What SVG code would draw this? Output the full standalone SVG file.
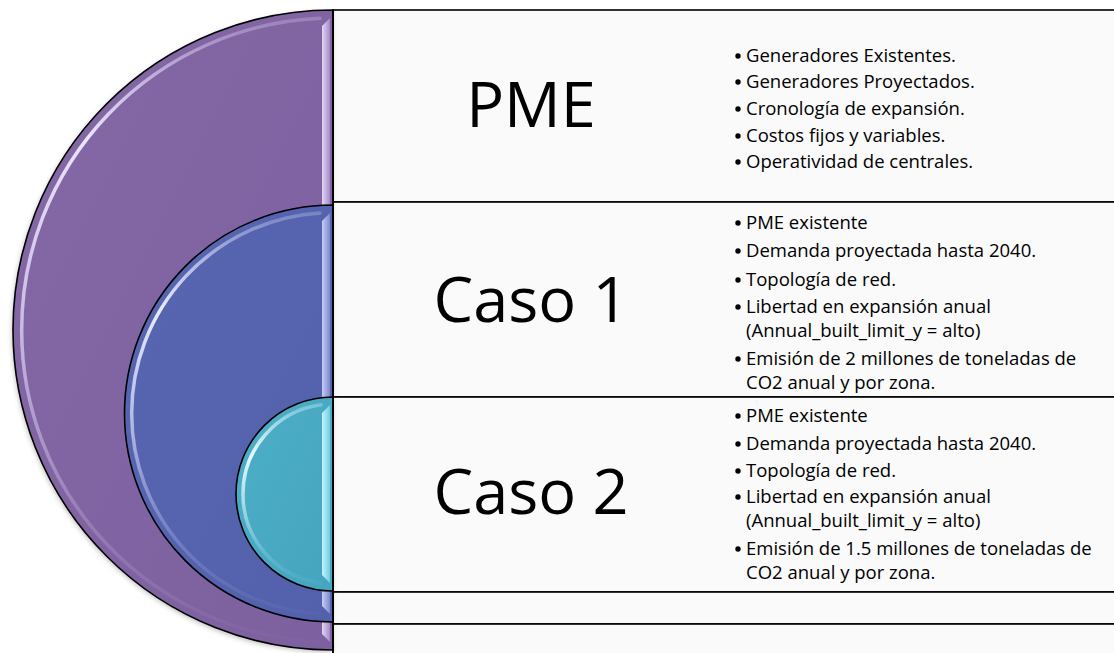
<svg xmlns="http://www.w3.org/2000/svg" width="1114" height="653" viewBox="0 0 1114 653">
<defs>
<style>
.box{fill:#fafafa;stroke:#000;stroke-width:1.6}
.edge{fill:none;stroke:#000;stroke-width:1.6}
.title{font-family:"Open Sans","Noto Sans",sans-serif;font-size:63px;fill:#000;text-anchor:middle}
.li{font-family:"Open Sans","Noto Sans",sans-serif;font-size:18.5px;fill:#000}
.dot{fill:#000}
.hl{fill:none;stroke-width:3.5;stroke-linecap:round}
</style>
<linearGradient id="gP" x1="0" y1="0" x2="1" y2="1"><stop offset="0" stop-color="#8468a6"/><stop offset="1" stop-color="#7d619f"/></linearGradient>
<linearGradient id="gB" x1="0" y1="0" x2="1" y2="1"><stop offset="0" stop-color="#5866b2"/><stop offset="1" stop-color="#5361ac"/></linearGradient>
<linearGradient id="gC" x1="0" y1="0" x2="1" y2="1"><stop offset="0" stop-color="#4daec8"/><stop offset="1" stop-color="#45a5bf"/></linearGradient>
<linearGradient id="hlP" gradientUnits="userSpaceOnUse" x1="0" y1="10" x2="0" y2="650">
<stop offset="0" stop-color="#e8dcff" stop-opacity="0.2"/>
<stop offset="0.2" stop-color="#f2ebff" stop-opacity="0.95"/>
<stop offset="0.5" stop-color="#e8dcff" stop-opacity="0.7"/>
<stop offset="0.8" stop-color="#d8c8f0" stop-opacity="0.25"/>
<stop offset="1" stop-color="#d8c8f0" stop-opacity="0"/>
</linearGradient>
<linearGradient id="hlB" gradientUnits="userSpaceOnUse" x1="0" y1="205" x2="0" y2="622">
<stop offset="0" stop-color="#dfe4ff" stop-opacity="0.2"/>
<stop offset="0.25" stop-color="#f0f2ff" stop-opacity="0.95"/>
<stop offset="0.5" stop-color="#dfe4ff" stop-opacity="0.7"/>
<stop offset="0.8" stop-color="#c8d0f5" stop-opacity="0.25"/>
<stop offset="1" stop-color="#c8d0f5" stop-opacity="0"/>
</linearGradient>
<linearGradient id="hlC" gradientUnits="userSpaceOnUse" x1="0" y1="397" x2="0" y2="591">
<stop offset="0" stop-color="#e0fbff" stop-opacity="0.2"/>
<stop offset="0.3" stop-color="#f0feff" stop-opacity="0.95"/>
<stop offset="0.55" stop-color="#e0fbff" stop-opacity="0.6"/>
<stop offset="0.8" stop-color="#c8f2fa" stop-opacity="0.2"/>
<stop offset="1" stop-color="#c8f2fa" stop-opacity="0"/>
</linearGradient>
<linearGradient id="stripP" x1="0" y1="0" x2="1" y2="0"><stop offset="0" stop-color="#e2d6f5"/><stop offset="1" stop-color="#a38bc6"/></linearGradient>
<linearGradient id="stripB" x1="0" y1="0" x2="1" y2="0"><stop offset="0" stop-color="#c6cdf5"/><stop offset="1" stop-color="#7d89cc"/></linearGradient>
<linearGradient id="stripC" x1="0" y1="0" x2="1" y2="0"><stop offset="0" stop-color="#c4f4fd"/><stop offset="1" stop-color="#72cde0"/></linearGradient>
<filter id="sh" x="-10%" y="-10%" width="130%" height="130%"><feDropShadow dx="-1" dy="2" stdDeviation="2.5" flood-color="#000" flood-opacity="0.25"/></filter>
</defs>
<rect width="1114" height="653" fill="#fff"/>

<g id="rows">
<rect class="box" x="333" y="10" width="800" height="192"/>
<rect class="box" x="333" y="202" width="800" height="195"/>
<rect class="box" x="333" y="397" width="800" height="195"/>
<rect class="box" x="333" y="592" width="800" height="32"/>
<rect class="box" x="333" y="624" width="800" height="60"/>
</g>

<g id="node-pme-arc">
<path d="M333,10 A320,320 0 0 0 333,650 Z" fill="url(#gP)" filter="url(#sh)"/>
<path class="hl" d="M320,18.3 A312,312 0 0 0 320,641.7" stroke="url(#hlP)"/>
<polygon points="322,26 330,18 330,642 322,634" fill="url(#stripP)"/>
<path class="edge" d="M333,10 A320,320 0 0 0 333,650 Z"/>
</g>

<g id="node-caso1-arc">
<path d="M333,205 A208.5,208.5 0 0 0 333,622 Z" fill="url(#gB)"/>
<path class="hl" d="M320,212.9 A201,201 0 0 0 320,614.1" stroke="url(#hlB)"/>
<polygon points="322,221 330,213 330,614 322,606" fill="url(#stripB)"/>
<path class="edge" d="M333,205 A208.5,208.5 0 0 0 333,622 Z"/>
</g>

<g id="node-caso2-arc">
<path d="M333,397 A97,97 0 0 0 333,591 Z" fill="url(#gC)"/>
<path class="hl" d="M321,404.8 A90,90 0 0 0 321,583.2" stroke="url(#hlC)"/>
<polygon points="322,413 330,405 330,583 322,575" fill="url(#stripC)"/>
<path class="edge" d="M333,397 A97,97 0 0 0 333,591 Z"/>
</g>

<line x1="333" y1="10" x2="333" y2="653" stroke="#000" stroke-width="1.6"/>

<g id="node-pme">
<text class="title" x="531" y="127">PME</text>
<circle class="dot" cx="738" cy="56" r="2.7"/><text class="li" x="746" y="62">Generadores Existentes.</text>
<circle class="dot" cx="738" cy="82" r="2.7"/><text class="li" x="746" y="88">Generadores Proyectados.</text>
<circle class="dot" cx="738" cy="109" r="2.7"/><text class="li" x="746" y="115">Cronología de expansión.</text>
<circle class="dot" cx="738" cy="136" r="2.7"/><text class="li" x="746" y="142">Costos fijos y variables.</text>
<circle class="dot" cx="738" cy="162" r="2.7"/><text class="li" x="746" y="168">Operatividad de centrales.</text>
</g>

<g id="node-caso1">
<text class="title" x="531" y="322">Caso 1</text>
<circle class="dot" cx="738" cy="223" r="2.7"/><text class="li" x="746" y="229">PME existente</text>
<circle class="dot" cx="738" cy="251" r="2.7"/><text class="li" x="746" y="257">Demanda proyectada hasta 2040.</text>
<circle class="dot" cx="738" cy="280" r="2.7"/><text class="li" x="746" y="286">Topología de red.</text>
<circle class="dot" cx="738" cy="307" r="2.7"/><text class="li" x="746" y="313">Libertad en expansión anual</text>
<text class="li" x="746" y="337">(Annual_built_limit_y = alto)</text>
<circle class="dot" cx="738" cy="359" r="2.7"/><text class="li" x="746" y="365">Emisión de 2 millones de toneladas de</text>
<text class="li" x="746" y="389">CO2 anual y por zona.</text>
</g>

<g id="node-caso2">
<text class="title" x="531" y="514">Caso 2</text>
<circle class="dot" cx="738" cy="416" r="2.7"/><text class="li" x="746" y="422">PME existente</text>
<circle class="dot" cx="738" cy="444" r="2.7"/><text class="li" x="746" y="450">Demanda proyectada hasta 2040.</text>
<circle class="dot" cx="738" cy="471" r="2.7"/><text class="li" x="746" y="477">Topología de red.</text>
<circle class="dot" cx="738" cy="497" r="2.7"/><text class="li" x="746" y="503">Libertad en expansión anual</text>
<text class="li" x="746" y="527">(Annual_built_limit_y = alto)</text>
<circle class="dot" cx="738" cy="549" r="2.7"/><text class="li" x="746" y="555">Emisión de 1.5 millones de toneladas de</text>
<text class="li" x="746" y="579">CO2 anual y por zona.</text>
</g>

<g id="connectors"></g>
</svg>
